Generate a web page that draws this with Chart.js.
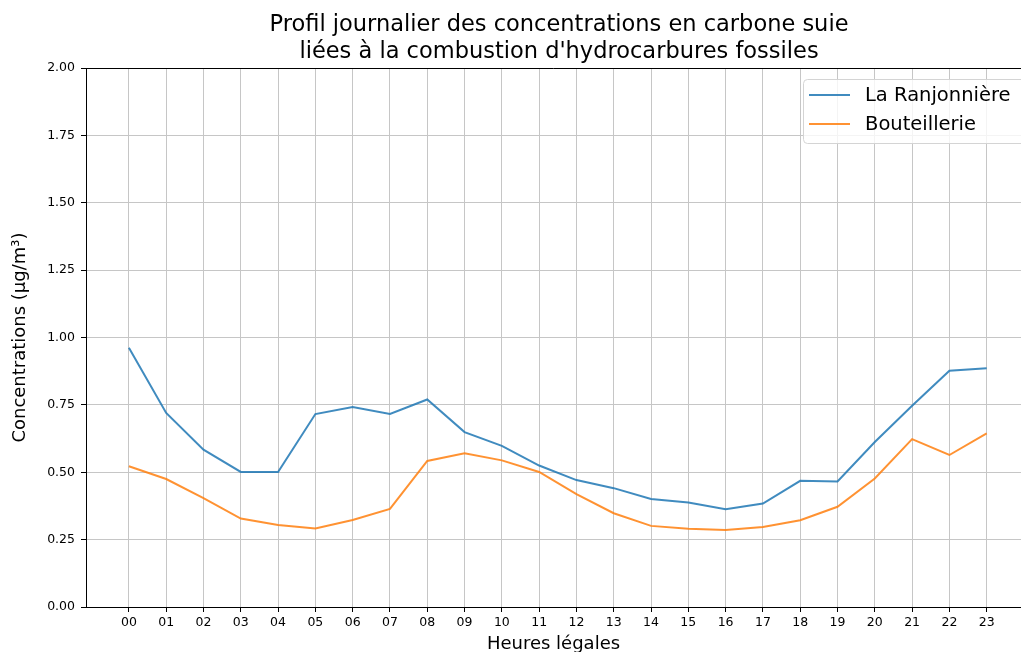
<!DOCTYPE html>
<html>
<head>
<meta charset="utf-8">
<script src="https://cdn.jsdelivr.net/npm/chart.js@4"></script>
<style>
  html, body { margin: 0; padding: 0; background: #fff; }
  #wrap { width: 1021px; height: 652px; }
</style>
</head>
<body>
<div id="wrap"><canvas id="profilChart" width="1021" height="652"></canvas></div>
<script>
// Heures et profils moyens (µg/m3)
const hours = ['00', '01', '02', '03', '04', '05', '06', '07', '08', '09', '10', '11',
               '12', '13', '14', '15', '16', '17', '18', '19', '20', '21', '22', '23'];
const ranjonniere = [0.962, 0.720, 0.584, 0.501, 0.501, 0.716, 0.742, 0.716, 0.770, 0.649, 0.598, 0.525,
                     0.471, 0.441, 0.401, 0.388, 0.363, 0.384, 0.468, 0.466, 0.612, 0.747, 0.877, 0.886];
const bouteillerie = [0.522, 0.475, 0.404, 0.328, 0.304, 0.291, 0.323, 0.364, 0.542, 0.570, 0.544, 0.501,
                      0.419, 0.348, 0.301, 0.290, 0.286, 0.297, 0.322, 0.372, 0.477, 0.623, 0.564, 0.644];
const yTicks = [0, 0.25, 0.5, 0.75, 1, 1.25, 1.5, 1.75, 2];
const titleLines = ['Profil journalier des concentrations en carbone suie',
                    "liées à la combustion d'hydrocarbures fossiles"];

const FONT = "'DejaVu Sans', sans-serif";
const BLUE = 'rgba(31, 119, 180, 0.85)';
const ORANGE = 'rgba(255, 127, 14, 0.85)';

function toPoints(values) {
  return values.map((v, i) => ({ x: i, y: v }));
}

// titre, bord supérieur et légende dessinés à la main
const decorations = {
  id: 'decorations',
  afterDraw(chart) {
    const ctx = chart.ctx;
    const area = chart.chartArea;
    ctx.save();

    // bord du haut
    ctx.strokeStyle = '#000';
    ctx.lineWidth = 1;
    ctx.beginPath();
    ctx.moveTo(area.left, area.top + 0.5);
    ctx.lineTo(area.right, area.top + 0.5);
    ctx.stroke();

    // titre sur deux lignes
    ctx.fillStyle = '#000';
    ctx.font = '22.5px ' + FONT;
    ctx.textAlign = 'center';
    ctx.textBaseline = 'middle';
    titleLines.forEach((line, i) => ctx.fillText(line, 559, 25 + i * 27));

    // légende en haut à droite
    const bx = 803, by = 79, bw = 240, bh = 64;
    ctx.fillStyle = 'rgba(255, 255, 255, 0.8)';
    ctx.strokeStyle = '#d4d4d4';
    ctx.beginPath();
    ctx.roundRect(bx + 0.5, by + 0.5, bw, bh, 4);
    ctx.fill();
    ctx.stroke();

    ctx.font = '19.5px ' + FONT;
    ctx.textAlign = 'left';
    chart.data.datasets.forEach((ds, i) => {
      const y = by + 16 + i * 29;
      ctx.strokeStyle = ds.borderColor;
      ctx.lineWidth = 2;
      ctx.beginPath();
      ctx.moveTo(809, y);
      ctx.lineTo(850, y);
      ctx.stroke();
      ctx.fillStyle = '#000';
      ctx.fillText(ds.label, 865, y + 1);
    });
    ctx.restore();
  }
};

const ctx = document.getElementById('profilChart').getContext('2d');
const profilChart = new Chart(ctx, {
  type: 'line',
  data: {
    datasets: [{
      label: 'La Ranjonnière',
      data: toPoints(ranjonniere),
      borderColor: BLUE,
      borderWidth: 2,
      pointRadius: 0,
      tension: 0,
      fill: false
    }, {
      label: 'Bouteillerie',
      data: toPoints(bouteillerie),
      borderColor: ORANGE,
      borderWidth: 2,
      pointRadius: 0,
      tension: 0,
      fill: false
    }]
  },
  options: {
    responsive: false,
    animation: false,
    layout: { padding: { top: 68, right: 0, left: 0, bottom: 0 } },
    plugins: {
      legend: { display: false },
      title: { display: false },
      tooltip: { enabled: false }
    },
    scales: {
      x: {
        type: 'linear',
        min: -1.15,
        max: 23.92,
        afterBuildTicks(scale) {
          scale.ticks = hours.map((h, i) => ({ value: i }));
        },
        afterFit(scale) { scale.height = 45; },
        ticks: {
          color: '#000',
          font: { family: FONT, size: 12.5 },
          padding: 3,
          maxRotation: 0,
          autoSkip: false,
          callback: (value) => hours[value]
        },
        grid: { color: '#c6c6c6', lineWidth: 1, tickColor: '#000', tickLength: 5 },
        border: { color: '#000', width: 1 },
        title: {
          display: true,
          text: 'Heures légales',
          color: '#000',
          font: { family: FONT, size: 18 },
          padding: { top: 0, bottom: -3 }
        }
      },
      y: {
        min: 0,
        max: 2,
        afterBuildTicks(scale) {
          scale.ticks = yTicks.map(v => ({ value: v }));
        },
        afterFit(scale) { scale.width = 86; },
        ticks: {
          color: '#000',
          font: { family: FONT, size: 12.5 },
          padding: 6,
          callback: (value) => value.toFixed(2)
        },
        grid: { color: '#c6c6c6', lineWidth: 1, tickColor: '#000', tickLength: 5 },
        border: { color: '#000', width: 1 },
        title: {
          display: true,
          text: 'Concentrations (µg/m³)',
          color: '#000',
          font: { family: FONT, size: 18 },
          padding: { top: 10, bottom: 0 }
        }
      }
    }
  },
  plugins: [decorations]
});
</script>
</body>
</html>
